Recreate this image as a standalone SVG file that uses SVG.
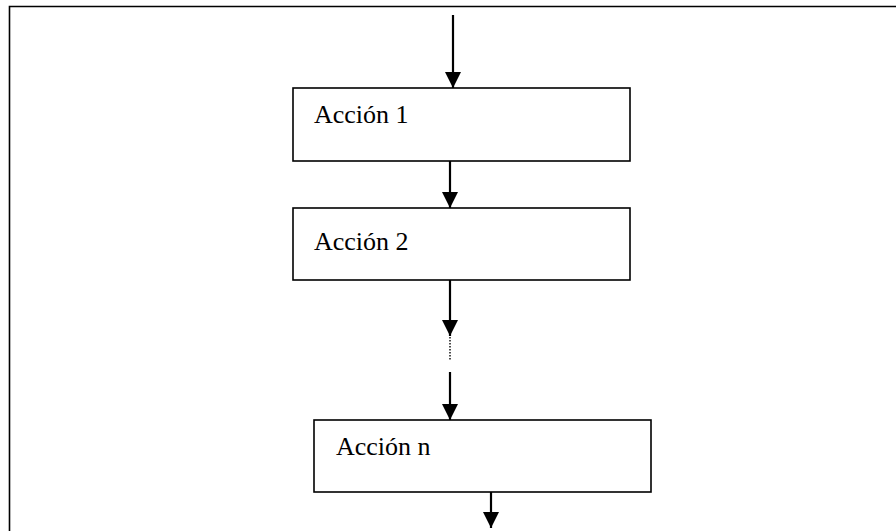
<svg xmlns="http://www.w3.org/2000/svg" width="896" height="531" viewBox="0 0 896 531">
<style>
.box{fill:#fff;stroke:#000;stroke-width:1.6}
.lbl{font-family:"Liberation Serif","Times New Roman",serif;font-size:26px;fill:#000}
.con{stroke:#000;stroke-width:2.2;fill:none}
.dot{stroke:#000;stroke-width:1.4;stroke-dasharray:1.5 1.5;fill:none}
</style>
<defs>
<marker id="ah" markerWidth="16" markerHeight="16" viewBox="0 0 16 16" refX="16" refY="8" orient="auto" markerUnits="userSpaceOnUse">
<path d="M0,0 L16,8 L0,16 Z" fill="#000"/>
</marker>
</defs>
<rect x="0" y="0" width="896" height="531" fill="#fff"/>
<path d="M9.5,540 L9.5,6.5 L900,6.5" fill="none" stroke="#000" stroke-width="1.6"/>
<g id="connectors">
<line class="con" x1="453" y1="15" x2="453" y2="88" marker-end="url(#ah)"/>
<line class="con" x1="450" y1="161" x2="450" y2="208" marker-end="url(#ah)"/>
<line class="con" x1="450" y1="280" x2="450" y2="336" marker-end="url(#ah)"/>
<line class="dot" x1="450" y1="337" x2="450" y2="361"/>
<line class="con" x1="450" y1="372" x2="450" y2="420" marker-end="url(#ah)"/>
<line class="con" x1="491" y1="492" x2="491" y2="528" marker-end="url(#ah)"/>
</g>
<g id="n1">
<rect class="box" x="293" y="88" width="337" height="73"/>
<text class="lbl" x="314" y="123">Acción 1</text>
</g>
<g id="n2">
<rect class="box" x="293" y="208" width="337" height="72"/>
<text class="lbl" x="314" y="250">Acción 2</text>
</g>
<g id="nn">
<rect class="box" x="314" y="420" width="337" height="72"/>
<text class="lbl" x="336" y="455">Acción n</text>
</g>
</svg>
